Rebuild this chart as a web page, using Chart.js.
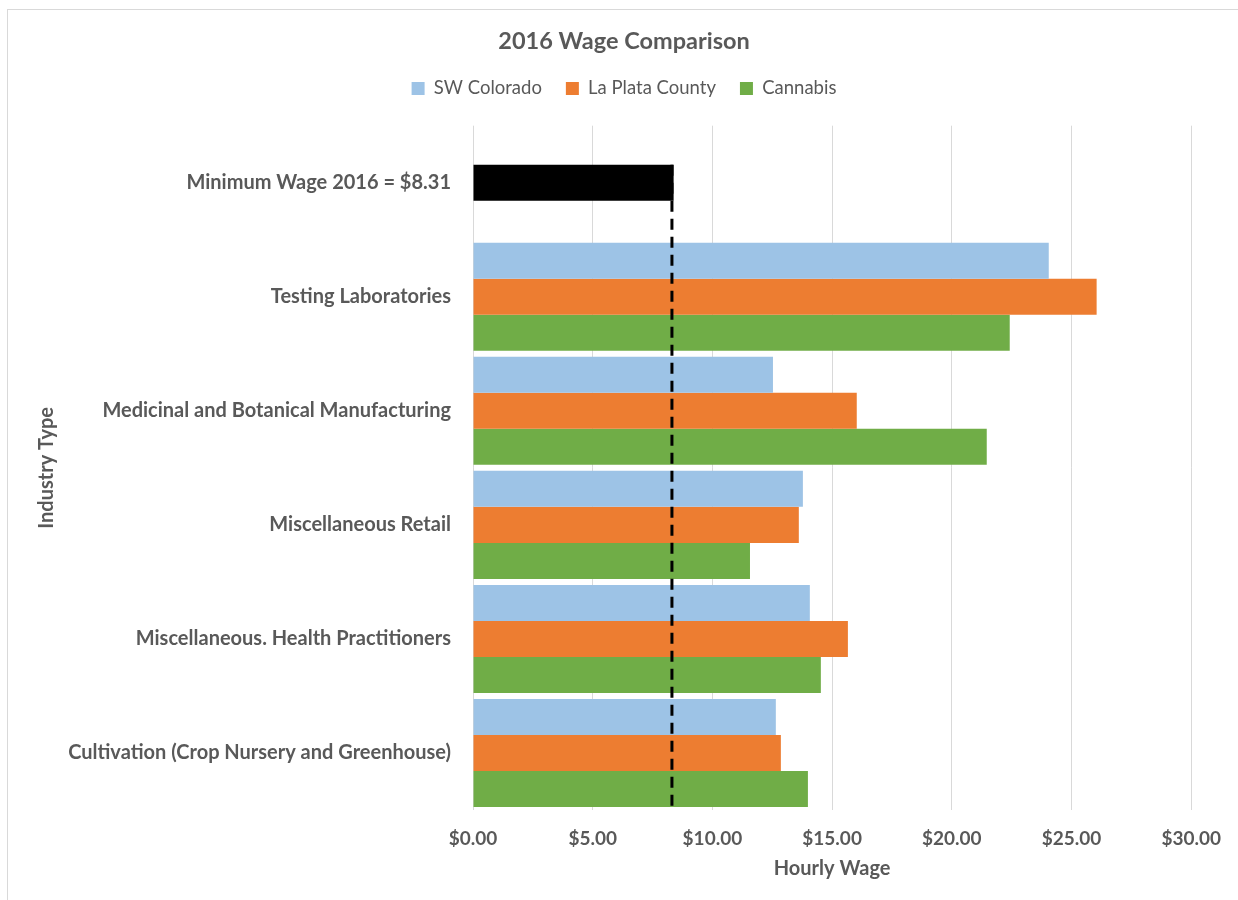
<!DOCTYPE html>
<html>
<head>
<meta charset="utf-8">
<script src="https://cdn.jsdelivr.net/npm/chart.js@4"></script>
<style>
  body { margin: 0; background: #fff; }
  .frame { position: absolute; left: 7px; top: 9px; width: 1240px; height: 900px; border: 1px solid #d9d9d9; }
  .wrap { position: absolute; left: 0; top: 0; width: 1238px; height: 900px; }
</style>
</head>
<body>
<div class="frame"></div>
<div class="wrap"><canvas id="wage-chart" width="1238" height="900"></canvas></div>
<script>
const industries = [
    "Minimum Wage 2016 = $8.31",
    "Testing Laboratories",
    "Medicinal and Botanical Manufacturing",
    "Miscellaneous Retail",
    "Miscellaneous. Health Practitioners",
    "Cultivation (Crop Nursery and Greenhouse)",
  ],
  serie = ["SW Colorado", "La Plata County", "Cannabis"],
  swColorado = [null, 24.05, 12.53, 13.78, 14.07, 12.65],
  laPlata = [8.38, 26.05, 16.03, 13.61, 15.66, 12.86],
  cannabis = [null, 22.42, 21.46, 11.57, 14.53, 13.99],
  minWage = 8.31,
  xTicks = [0, 5, 10, 15, 20, 25, 30],
  colori = ["#9dc3e6", "#ed7d31", "#70ad47"],
  grigio = "#595959",
  font = "Lato, sans-serif";

// la barra nera del minimo salariale sta nella serie centrale
const laPlataColori = laPlata.map((v, i) => (i === 0 ? "#000000" : colori[1]));

const lineaMinimo = {
  id: "lineaMinimo",
  afterDatasetsDraw(chart) {
    const ctx = chart.ctx,
      x = chart.scales.x.getPixelForValue(minWage),
      top = chart.getDatasetMeta(1).data[0],
      last = chart.getDatasetMeta(2).data[industries.length - 1];
    ctx.save();
    ctx.strokeStyle = "#000";
    ctx.lineWidth = 3;
    ctx.setLineDash([11, 7]);
    ctx.beginPath();
    ctx.moveTo(x, top.y - top.height / 2);
    ctx.lineTo(x, last.y + last.height / 2);
    ctx.stroke();
    ctx.restore();
  },
};

const spazioLegenda = {
  id: "spazioLegenda",
  beforeInit(chart) {
    const fit = chart.legend.fit;
    chart.legend.fit = function () {
      fit.bind(chart.legend)();
      this.height += 18;
    };
  },
};

const config = {
  type: "bar",
  data: {
    labels: industries,
    datasets: [
      { label: serie[0], data: swColorado, backgroundColor: colori[0] },
      { label: serie[1], data: laPlata, backgroundColor: laPlataColori },
      { label: serie[2], data: cannabis, backgroundColor: colori[2] },
    ],
  },
  options: {
    indexAxis: "y",
    responsive: false,
    animation: false,
    layout: { padding: { left: 55, right: 45, top: 0, bottom: 19 } },
    datasets: { bar: { categoryPercentage: 0.947, barPercentage: 1 } },
    scales: {
      x: {
        min: 0,
        max: 30,
        afterBuildTicks: (s) => { s.ticks = xTicks.map((v) => ({ value: v })); },
        grid: { color: "#d9d9d9", drawTicks: false },
        border: { display: false },
        ticks: {
          padding: 17,
          color: grigio,
          font: { family: font, size: 19, weight: "bold" },
          callback: (v) => "$" + Number(v).toFixed(2),
        },
        title: {
          display: true,
          text: "Hourly Wage",
          color: grigio,
          font: { family: font, size: 20, weight: "bold" },
          padding: { top: 4, bottom: 0 },
        },
        afterFit: (s) => { s.height = 71; },
      },
      y: {
        grid: { display: false, drawTicks: false },
        border: { display: false },
        ticks: {
          padding: 22,
          color: grigio,
          font: { family: font, size: 20, weight: "bold" },
        },
        title: {
          display: true,
          text: "Industry Type",
          color: grigio,
          font: { family: font, size: 20, weight: "bold" },
          padding: { top: -20, bottom: 0 },
        },
        afterFit: (s) => { s.width = 418; },
      },
    },
    plugins: {
      title: {
        display: true,
        text: "2016 Wage Comparison",
        color: grigio,
        font: { family: font, size: 23.5, weight: "bold" },
        padding: { top: 27, bottom: 0 },
      },
      legend: {
        labels: {
          boxWidth: 13,
          boxHeight: 13,
          padding: 24,
          color: grigio,
          font: { family: font, size: 18.5 },
          generateLabels: (chart) =>
            Chart.defaults.plugins.legend.labels.generateLabels(chart).map((l, i) => ({
              ...l,
              fillStyle: colori[i],
              strokeStyle: colori[i],
              lineWidth: 0,
            })),
        },
      },
      tooltip: { enabled: false },
    },
  },
  plugins: [lineaMinimo, spazioLegenda],
};

new Chart(document.getElementById("wage-chart").getContext("2d"), config);
</script>
</body>
</html>
